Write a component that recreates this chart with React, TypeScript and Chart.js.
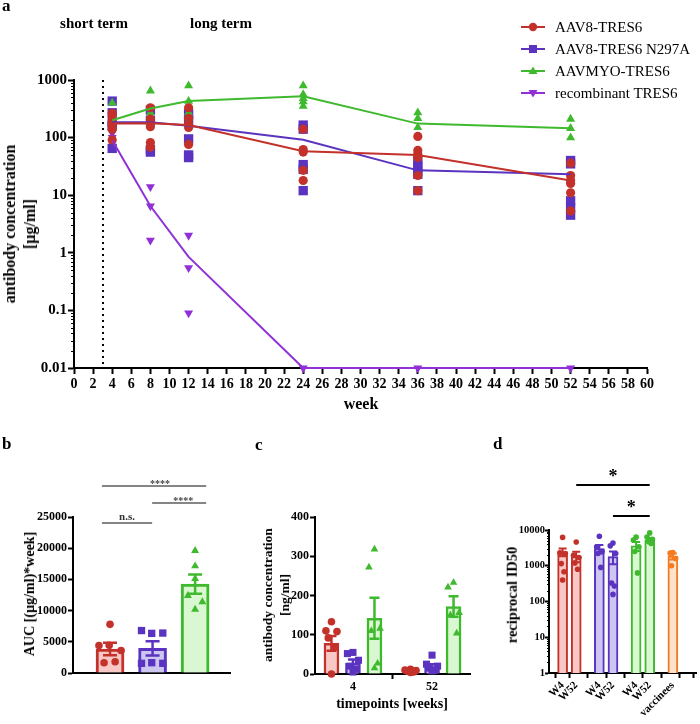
import React, { useEffect, useRef } from 'react';
import { Chart, registerables } from 'chart.js';
Chart.register(...registerables);

const SERIF = "'Liberation Serif', 'Times New Roman', Times, serif";
Chart.defaults.font.family = SERIF;
Chart.defaults.color = '#000';

const RED = '#c3312a';
const BLUE = '#5a34c0';
const GREEN = '#3fb92e';
const PURPLE = '#9030d6';
const ORANGE = '#f47b20';
const RED_FILL = '#f7c8c5';
const BLUE_FILL = '#ccc6f0';
const GREEN_FILL = '#d9f7d0';
const ORANGE_FILL = '#fde2cd';

// ---------------- Panel a : antibody concentration over time ----------------
const weeksA = [4, 8, 12, 24, 36, 52];
const seriesA = ['AAV8-TRES6', 'AAV8-TRES6 N297A', 'AAVMYO-TRES6', 'recombinant TRES6'];
const meanRedA = [175, 178, 165, 58, 50, 18];
const meanBlueA = [185, 185, 160, 92, 27, 23];
const meanGreenA = [200, 320, 430, 520, 175, 145];
const meanPurpleA = [90, 6.5, 0.85, 0.01, 0.01, 0.01];
const ptsRedA = [
  [264, 231, 189, 166, 139, 91],
  [330, 210, 175, 155, 82, 68],
  [330, 215, 170, 150, 76],
  [140, 62, 56, 27, 18],
  [105, 60, 52, 45, 22, 12],
  [36, 22, 18, 16, 11, 5.3],
];
const ptsBlueA = [
  [430, 270, 180, 160, 65],
  [300, 200, 62, 56],
  [260, 200, 95, 50, 45],
  [165, 140, 34, 28, 12],
  [40, 32, 27, 23, 12],
  [40, 35, 8, 6, 4.5],
];
const ptsGreenA = [
  [400, 200, 145],
  [650, 270],
  [800, 430, 270],
  [800, 560, 480, 420, 350],
  [270, 215, 150],
  [210, 145, 100],
];
const ptsPurpleA = [
  [120, 100],
  [14, 6.5, 1.65],
  [2, 0.55, 0.09],
  [0.01],
  [0.01],
  [0.01],
];
const yMajorA = [0.01, 0.1, 1, 10, 100, 1000];
const yLabelsA = ['0.01', '0.1', '1', '10', '100', '1000'];
const dividerWeekA = 3;

// ---------------- Panel b : AUC ----------------
const meanB = [3850, 3950, 14250];
const semB = [1000, 1150, 1550];
const ptsB = [
  [7800, 4400, 4450, 3600, 1650, 1800],
  [6800, 6350, 6400, 1550, 1650, 1550],
  [19600, 17150, 15100, 12400, 11400, 10200],
];
const yTicksB = [0, 5000, 10000, 15000, 20000, 25000];
const yLabelsB = ['0', '5000', '10000', '15000', '20000', '25000'];

// ---------------- Panel c : concentration at timepoints ----------------
const timepointsC = ['4', '52'];
const meanRedC = [78, 7];
const semRedC = [19, 1.5];
const meanBlueC = [27, 18];
const semBlueC = [10, 7];
const meanGreenC = [142, 172];
const semGreenC = [52, 26];
const ptsRedC = [[133, 110, 108, 92, 68, 0], [12, 10, 9, 7, 5, 4]];
const ptsBlueC = [[55, 52, 35, 20, 12, 5], [48, 25, 20, 15, 10, 8]];
const ptsGreenC = [[318, 272, 116, 110, 27, 15], [233, 221, 156, 150, 104]];
const yTicksC = [0, 100, 200, 300, 400];
const yLabelsC = ['0', '100', '200', '300', '400'];

// ---------------- Panel d : reciprocal ID50 ----------------
const labelsD = ['W4', 'W52', 'W4', 'W52', 'W4', 'W52', 'vaccinees', ''];
const meanD = [2450, 1850, 3000, 1800, 3600, 5300, 1850];
const semD = [600, 600, 800, 700, 1000, 700, 350];
const ptsD = [
  [6200, 2300, 2200, 1150, 680, 400],
  [4600, 1950, 1700, 1200, 800],
  [6700, 3400, 2500, 2200, 900],
  [4300, 3600, 2200, 330, 270, 158],
  [6300, 5200, 3400, 2500, 630],
  [8300, 6400, 5500, 4800, 4200],
  [2350, 2250, 1600, 1000],
];
const yMajorD = [1, 10, 100, 1000, 10000];
const yLabelsD = ['1', '10', '100', '1000', '10000'];

// ---------------- layout constants (not data) ----------------
const slotPosD = [1, 2, 3.7, 4.7, 6.4, 7.4, 9.1, 10.1];
const jitterB = [
  [0, -0.26, -0.02, 0.26, -0.14, 0.12],
  [-0.26, -0.02, 0.24, -0.26, -0.02, 0.24],
  [0, 0, 0, -0.17, 0.17, 0],
];
const jitterC = [0, -0.07, 0.07, -0.04, 0.04, 0];
const jitterD = [0, -0.2, 0.2, -0.1, 0.1, 0];

const F = (size: number, weight: any = 'bold') => ({ family: SERIF, size, weight });

function logTicks(majors: number[]) {
  const out: any[] = [];
  majors.forEach((m, i) => {
    out.push({ value: m, major: true });
    if (i < majors.length - 1) {
      for (let k = 2; k <= 9; k++) out.push({ value: +(m * k).toPrecision(6), major: false });
    }
  });
  return out;
}
function logLabel(majors: number[], labels: string[]) {
  return (v: number, i: number, ticks: any[]) => {
    const t = ticks[i];
    if (!t || !t.major) return '';
    const j = majors.findIndex((m) => Math.abs(m - v) <= m * 1e-6);
    return j >= 0 ? labels[j] : '';
  };
}
function listLabel(values: number[], labels: string[]) {
  return (v: number) => {
    const j = values.findIndex((m) => Math.abs(m - v) < 1e-6);
    return j >= 0 ? labels[j] : '';
  };
}

const minorTickPlugin = (len: number) => ({
  id: 'minorTicks',
  afterDraw(chart: any) {
    const s = chart.scales.y;
    const ctx = chart.ctx;
    ctx.save();
    ctx.strokeStyle = '#000';
    ctx.lineWidth = 1;
    s.ticks.forEach((t: any) => {
      if (t.major) return;
      const y = Math.round(s.getPixelForValue(t.value)) + 0.5;
      ctx.beginPath();
      ctx.moveTo(s.right - len, y);
      ctx.lineTo(s.right, y);
      ctx.stroke();
    });
    ctx.restore();
  },
});

const errorBarPlugin = (cap: number, width: number) => ({
  id: 'errorBars',
  afterDatasetDraw(chart: any, args: any) {
    const ds: any = chart.data.datasets[args.index];
    if (!ds.errors) return;
    const xs = chart.scales.x;
    const ys = chart.scales.y;
    const ctx = chart.ctx;
    ctx.save();
    ctx.lineWidth = width;
    ds.data.forEach((d: any, i: number) => {
      const col = Array.isArray(ds.borderColor) ? ds.borderColor[i] : ds.borderColor;
      const e = ds.errors[i];
      const x = xs.getPixelForValue(d.x);
      const yT = ys.getPixelForValue(d.y + e);
      const lo = d.y - e;
      const yB = ys.getPixelForValue(lo > 0 ? lo : d.y);
      ctx.strokeStyle = col;
      ctx.beginPath();
      ctx.moveTo(x, yT);
      ctx.lineTo(x, yB);
      ctx.moveTo(x - cap / 2, yT);
      ctx.lineTo(x + cap / 2, yT);
      ctx.moveTo(x - cap / 2, yB);
      ctx.lineTo(x + cap / 2, yB);
      ctx.stroke();
    });
    ctx.restore();
  },
});

const sigPlugin = (lines: any[]) => ({
  id: 'sigLines',
  afterDraw(chart: any) {
    const xs = chart.scales.x;
    const top = chart.chartArea.top;
    const ctx = chart.ctx;
    ctx.save();
    lines.forEach((l) => {
      const x1 = xs.getPixelForValue(l.x1);
      const x2 = xs.getPixelForValue(l.x2);
      const y = Math.round(top + l.dy);
      ctx.strokeStyle = l.color;
      ctx.lineWidth = 2;
      ctx.beginPath();
      ctx.moveTo(x1, y);
      ctx.lineTo(x2, y);
      ctx.stroke();
      ctx.fillStyle = l.textColor;
      ctx.font = l.font;
      ctx.textAlign = 'center';
      ctx.textBaseline = 'alphabetic';
      ctx.fillText(l.text, (x1 + x2) / 2 + (l.tx || 0), y + l.ty);
    });
    ctx.restore();
  },
});

const dividerPlugin = {
  id: 'divider',
  beforeDatasetsDraw(chart: any) {
    const x = Math.round(chart.scales.x.getPixelForValue(dividerWeekA));
    const { top, bottom } = chart.chartArea;
    const ctx = chart.ctx;
    ctx.save();
    ctx.strokeStyle = '#000';
    ctx.lineWidth = 2;
    ctx.setLineDash([2, 4]);
    ctx.beginPath();
    ctx.moveTo(x, top);
    ctx.lineTo(x, bottom);
    ctx.stroke();
    ctx.restore();
  },
};

const axisGrid = (len: number, width: any = 2) => ({
  display: true,
  drawOnChartArea: false,
  drawTicks: true,
  tickLength: len,
  tickWidth: width,
  tickColor: '#000',
});
const axisBorder = { display: true, color: '#000', width: 2 };
const common = {
  responsive: false,
  maintainAspectRatio: false,
  animation: false as const,
  devicePixelRatio: 1,
  events: [] as any[],
};
const noPlugins = { legend: { display: false }, tooltip: { enabled: false } };

function makeA(): any {
  const colors = [RED, BLUE, GREEN, PURPLE];
  const means = [meanRedA, meanBlueA, meanGreenA, meanPurpleA];
  const flat = (pts: number[][]) => weeksA.flatMap((w, i) => pts[i].map((v) => ({ x: w, y: v })));
  const datasets: any[] = means.map((m, i) => ({
    label: seriesA[i],
    data: weeksA.map((w, j) => ({ x: w, y: m[j] })),
    showLine: true,
    borderColor: colors[i],
    borderWidth: 2,
    pointRadius: 0,
    order: 0,
    clip: false,
  }));
  const pts = [
    { d: ptsRedA, c: RED, s: 'circle', r: 4.6, rot: 0, o: 1 },
    { d: ptsGreenA, c: GREEN, s: 'triangle', r: 5.2, rot: 0, o: 2 },
    { d: ptsPurpleA, c: PURPLE, s: 'triangle', r: 5.2, rot: 180, o: 3 },
    { d: ptsBlueA, c: BLUE, s: 'rect', r: 6.6, rot: 0, o: 4 },
  ];
  pts.forEach((p) =>
    datasets.push({
      data: flat(p.d),
      showLine: false,
      pointStyle: p.s,
      pointRadius: p.r,
      pointRotation: p.rot,
      pointBackgroundColor: p.c,
      pointBorderColor: p.c,
      pointBorderWidth: 0,
      order: p.o,
      clip: false,
    })
  );
  return {
    type: 'scatter',
    data: { datasets },
    plugins: [dividerPlugin, minorTickPlugin(3)],
    options: {
      ...common,
      layout: { padding: { left: 0, top: 80, right: 53, bottom: 0 } },
      plugins: noPlugins,
      scales: {
        x: {
          type: 'linear',
          min: 0,
          max: 60,
          afterFit: (s: any) => { s.height = 32; },
          ticks: { stepSize: 2, autoSkip: false, maxRotation: 0, minRotation: 0, font: F(14), color: '#000', padding: 2 },
          grid: axisGrid(6),
          border: axisBorder,
        },
        y: {
          type: 'logarithmic',
          min: 0.01,
          max: 1000,
          afterFit: (s: any) => { s.width = 74; },
          afterBuildTicks: (s: any) => { s.ticks = logTicks(yMajorA); },
          ticks: { autoSkip: false, font: F(15), color: '#000', padding: 1, callback: logLabel(yMajorA, yLabelsA) },
          grid: { ...axisGrid(6, 2), tickColor: (c: any) => (c.tick && c.tick.major ? '#000' : 'rgba(0,0,0,0)') },
          border: axisBorder,
        },
      },
    },
  };
}

function makeB(): any {
  const colors = [RED, BLUE, GREEN];
  const fills = [RED_FILL, BLUE_FILL, GREEN_FILL];
  const styles = [
    { s: 'circle', r: 3.8 },
    { s: 'rect', r: 5.2 },
    { s: 'triangle', r: 4.6 },
  ];
  const datasets: any[] = [
    {
      type: 'bar',
      data: meanB.map((m, i) => ({ x: i, y: m })),
      errors: semB,
      backgroundColor: fills,
      borderColor: colors,
      borderWidth: 3,
      barThickness: 28,
      grouped: false,
      order: 10,
    },
  ];
  ptsB.forEach((g, i) =>
    datasets.push({
      type: 'scatter',
      data: g.map((v, j) => ({ x: i + jitterB[i][j], y: v })),
      pointStyle: styles[i].s,
      pointRadius: styles[i].r,
      pointBackgroundColor: colors[i],
      pointBorderColor: colors[i],
      pointBorderWidth: 0,
      order: 1,
      clip: false,
    })
  );
  const gray = '#858585';
  return {
    type: 'bar',
    data: { datasets },
    plugins: [
      errorBarPlugin(14, 2.5),
      sigPlugin([
        { x1: -0.19, x2: 0.99, dy: 6, text: 'n.s.', tx: 0, ty: -3, color: gray, textColor: '#333', font: `bold 11px ${SERIF}` },
        { x1: -0.19, x2: 2.26, dy: -31, text: '****', tx: 6, ty: 1, color: gray, textColor: '#444', font: `bold 10px ${SERIF}` },
        { x1: 0.99, x2: 2.26, dy: -14, text: '****', tx: 4, ty: 1, color: gray, textColor: '#444', font: `bold 10px ${SERIF}` },
      ]),
    ],
    options: {
      ...common,
      layout: { padding: { left: 0, top: 77, right: 10, bottom: 0 } },
      plugins: noPlugins,
      scales: {
        x: {
          type: 'linear',
          min: -0.87,
          max: 2.82,
          offset: false,
          afterFit: (s: any) => { s.height = 27; },
          afterBuildTicks: (s: any) => { s.ticks = [0, 1, 2].map((v) => ({ value: v })); },
          ticks: { display: false },
          grid: { display: false },
          border: axisBorder,
        },
        y: {
          type: 'linear',
          min: 0,
          max: 25000,
          afterFit: (s: any) => { s.width = 73; },
          afterBuildTicks: (s: any) => { s.ticks = yTicksB.map((v) => ({ value: v })); },
          ticks: { autoSkip: false, font: F(12), color: '#000', padding: 1, callback: listLabel(yTicksB, yLabelsB) },
          grid: axisGrid(5),
          border: axisBorder,
        },
      },
    },
  };
}

function makeC(): any {
  const groups = [
    { mean: meanRedC, sem: semRedC, pts: ptsRedC, c: RED, f: RED_FILL, s: 'circle', r: 3.8, off: -0.272 },
    { mean: meanBlueC, sem: semBlueC, pts: ptsBlueC, c: BLUE, f: BLUE_FILL, s: 'rect', r: 5.0, off: 0 },
    { mean: meanGreenC, sem: semGreenC, pts: ptsGreenC, c: GREEN, f: GREEN_FILL, s: 'triangle', r: 4.4, off: 0.272 },
  ];
  const datasets: any[] = [];
  groups.forEach((g) => {
    datasets.push({
      type: 'bar',
      data: g.mean.map((m, i) => ({ x: i + g.off, y: m })),
      errors: g.sem,
      backgroundColor: g.f,
      borderColor: g.c,
      borderWidth: 2.5,
      barThickness: 15,
      grouped: false,
      order: 10,
    });
    datasets.push({
      type: 'scatter',
      data: g.pts.flatMap((arr, i) => arr.map((v, j) => ({ x: i + g.off + jitterC[j], y: v }))),
      pointStyle: g.s,
      pointRadius: g.r,
      pointBackgroundColor: g.c,
      pointBorderColor: g.c,
      pointBorderWidth: 0,
      order: 1,
      clip: false,
    });
  });
  return {
    type: 'bar',
    data: { datasets },
    plugins: [errorBarPlugin(10, 2.5)],
    options: {
      ...common,
      layout: { padding: { left: 0, top: 77, right: 10, bottom: 0 } },
      plugins: noPlugins,
      scales: {
        x: {
          type: 'linear',
          min: -0.48,
          max: 1.48,
          offset: false,
          afterFit: (s: any) => { s.height = 46; },
          afterBuildTicks: (s: any) => { s.ticks = timepointsC.map((_, i) => ({ value: i })); },
          ticks: { autoSkip: false, maxRotation: 0, font: F(12), color: '#000', padding: 1, callback: (_v: any, i: number) => timepointsC[i] },
          grid: axisGrid(5),
          border: axisBorder,
        },
        y: {
          type: 'linear',
          min: 0,
          max: 400,
          afterFit: (s: any) => { s.width = 75; },
          afterBuildTicks: (s: any) => { s.ticks = yTicksC.map((v) => ({ value: v })); },
          ticks: { autoSkip: false, font: F(12), color: '#000', padding: 1, callback: listLabel(yTicksC, yLabelsC) },
          grid: axisGrid(5),
          border: axisBorder,
        },
      },
    },
  };
}

function makeD(): any {
  const colors = [RED, RED, BLUE, BLUE, GREEN, GREEN, ORANGE];
  const fills = [RED_FILL, RED_FILL, BLUE_FILL, BLUE_FILL, GREEN_FILL, GREEN_FILL, ORANGE_FILL];
  const datasets: any[] = [
    {
      type: 'bar',
      data: meanD.map((m, i) => ({ x: slotPosD[i], y: m })),
      errors: semD,
      backgroundColor: fills,
      borderColor: colors,
      borderWidth: 2,
      barThickness: 10,
      grouped: false,
      order: 10,
    },
  ];
  ptsD.forEach((g, i) =>
    datasets.push({
      type: 'scatter',
      data: g.map((v, j) => ({ x: slotPosD[i] + jitterD[j], y: v })),
      pointStyle: 'circle',
      pointRadius: 2.8,
      pointBackgroundColor: colors[i],
      pointBorderColor: colors[i],
      pointBorderWidth: 0,
      order: 1,
      clip: false,
    })
  );
  return {
    type: 'bar',
    data: { datasets },
    plugins: [
      errorBarPlugin(8, 2),
      minorTickPlugin(2),
      sigPlugin([
        { x1: slotPosD[1], x2: slotPosD[5], dy: -45, text: '*', tx: 0, ty: -3, color: '#000', textColor: '#000', font: `bold 18px ${SERIF}` },
        { x1: slotPosD[3], x2: slotPosD[5], dy: -14, text: '*', tx: 0, ty: -3, color: '#000', textColor: '#000', font: `bold 18px ${SERIF}` },
      ]),
    ],
    options: {
      ...common,
      layout: { padding: { left: 0, top: 90, right: 2, bottom: 0 } },
      plugins: noPlugins,
      scales: {
        x: {
          type: 'linear',
          min: 0,
          max: 10.8,
          offset: false,
          afterFit: (s: any) => { s.height = 51; },
          afterBuildTicks: (s: any) => { s.ticks = slotPosD.map((v) => ({ value: v })); },
          ticks: { autoSkip: false, minRotation: 45, maxRotation: 45, font: F(11), color: '#000', padding: 1, callback: (_v: any, i: number) => labelsD[i] },
          grid: axisGrid(5),
          border: axisBorder,
        },
        y: {
          type: 'logarithmic',
          min: 1,
          max: 10000,
          afterFit: (s: any) => { s.width = 79; },
          afterBuildTicks: (s: any) => { s.ticks = logTicks(yMajorD); },
          ticks: { autoSkip: false, font: F(10.5), color: '#000', padding: 0, callback: logLabel(yMajorD, yLabelsD) },
          grid: { ...axisGrid(4, 2), tickColor: (c: any) => (c.tick && c.tick.major ? '#000' : 'rgba(0,0,0,0)') },
          border: axisBorder,
        },
      },
    },
  };
}

function ChartBox(props: { left: number; top: number; width: number; height: number; make: () => any }) {
  const ref = useRef<HTMLCanvasElement | null>(null);
  useEffect(() => {
    const chart = new Chart(ref.current as HTMLCanvasElement, props.make());
    return () => chart.destroy();
  }, []);
  return (
    <canvas
      ref={ref}
      width={props.width}
      height={props.height}
      style={{ position: 'absolute', left: props.left, top: props.top, width: props.width, height: props.height }}
    />
  );
}

function Txt(props: { x: number; y: number; size: number; bold?: boolean; rotate?: boolean; lh?: number; children: any }) {
  const { x, y, size, bold = true, rotate = false, lh } = props;
  return (
    <div
      style={{
        position: 'absolute',
        left: x,
        top: y,
        transform: `translate(-50%, -50%)${rotate ? ' rotate(-90deg)' : ''}`,
        whiteSpace: 'nowrap',
        textAlign: 'center',
        fontFamily: SERIF,
        fontWeight: bold ? 'bold' : 'normal',
        fontSize: size,
        lineHeight: `${lh || size}px`,
        color: '#000',
      }}
    >
      {props.children}
    </div>
  );
}

function LegendMarker({ i, color }: { i: number; color: string }) {
  let m: any = null;
  if (i === 0) m = <circle cx={12} cy={7} r={4.2} fill={color} />;
  if (i === 1) m = <rect x={8} y={3} width={8} height={8} fill={color} />;
  if (i === 2) m = <polygon points="12,2.5 16.5,10 7.5,10" fill={color} />;
  if (i === 3) m = <polygon points="12,11.5 16.5,4 7.5,4" fill={color} />;
  return (
    <svg width={24} height={14} style={{ display: 'block' }}>
      <line x1={0} y1={7} x2={24} y2={7} stroke={color} strokeWidth={2} />
      {m}
    </svg>
  );
}

export default function App() {
  const legendColors = [RED, BLUE, GREEN, PURPLE];
  return (
    <div style={{ position: 'absolute', left: 0, top: 0, width: 700, height: 724, background: '#fff', overflow: 'hidden' }}>
      <ChartBox left={0} top={0} width={700} height={400} make={makeA} />
      <ChartBox left={0} top={440} width={240} height={260} make={makeB} />
      <ChartBox left={240} top={440} width={240} height={280} make={makeC} />
      <ChartBox left={470} top={440} width={230} height={284} make={makeD} />

      {/* panel letters */}
      <div style={{ position: 'absolute', left: 2, top: -3, font: `bold 17px ${SERIF}`, lineHeight: '17px' }}>a</div>
      <div style={{ position: 'absolute', left: 2, top: 435, font: `bold 17px ${SERIF}`, lineHeight: '17px' }}>b</div>
      <div style={{ position: 'absolute', left: 255, top: 436, font: `bold 17px ${SERIF}`, lineHeight: '17px' }}>c</div>
      <div style={{ position: 'absolute', left: 493, top: 435, font: `bold 17px ${SERIF}`, lineHeight: '17px' }}>d</div>

      {/* panel a texts */}
      <Txt x={94} y={23} size={15}>short term</Txt>
      <Txt x={221} y={23} size={15}>long term</Txt>
      <Txt x={361} y={404} size={16}>week</Txt>
      <Txt x={20} y={224} size={16} rotate lh={20}>
        antibody concentration
        <br />
        [µg/ml]
      </Txt>
      {seriesA.map((name, i) => (
        <div
          key={name}
          style={{ position: 'absolute', left: 521, top: 26.5 + i * 22.3 - 9, height: 18, display: 'flex', alignItems: 'center' }}
        >
          <LegendMarker i={i} color={legendColors[i]} />
          <span style={{ marginLeft: 10, fontFamily: SERIF, fontSize: 15, lineHeight: '18px', whiteSpace: 'nowrap' }}>{name}</span>
        </div>
      ))}

      {/* panel b texts */}
      <Txt x={30} y={594} size={14} rotate>
        AUC [(µg/ml)*week]
      </Txt>

      {/* panel c texts */}
      <Txt x={275.5} y={595} size={13.5} rotate lh={17}>
        antibody concentration
        <br />
        [ng/ml]
      </Txt>
      <Txt x={392} y={704} size={14}>timepoints [weeks]</Txt>

      {/* panel d texts */}
      <Txt x={512} y={595} size={14.5} rotate>
        reciprocal ID50
      </Txt>
    </div>
  );
}
